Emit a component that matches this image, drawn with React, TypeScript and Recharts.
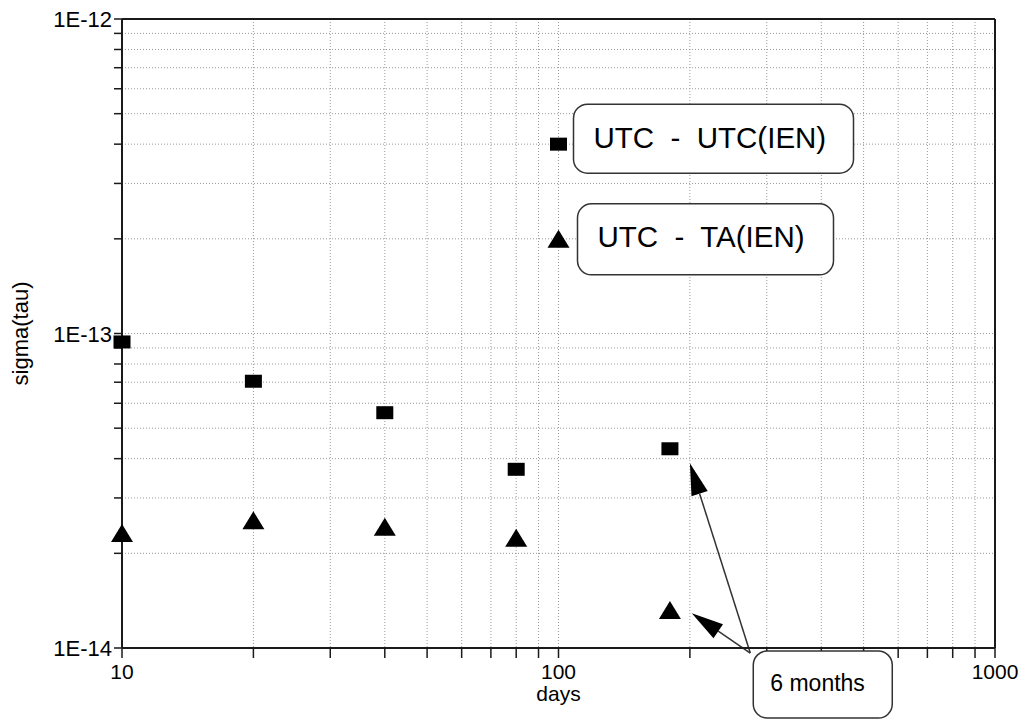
import {
  ScatterChart,
  Scatter,
  XAxis,
  YAxis,
  CartesianGrid,
  ReferenceLine,
  ReferenceDot,
} from "recharts";

const FONT = '"Liberation Sans", Arial, Helvetica, sans-serif';
const INK = "#1a1a1a";

// averaging time (days) and sigma(tau)
const days = [10, 20, 40, 80, 180];
const utcMinusUtcIen = [9.4e-14, 7.05e-14, 5.6e-14, 3.7e-14, 4.3e-14];
const utcMinusTaIen = [2.32e-14, 2.55e-14, 2.43e-14, 2.24e-14, 1.32e-14];

const xTicks = [
  10, 20, 30, 40, 50, 60, 70, 80, 90, 100, 200, 300, 400, 500, 600, 700, 800,
  900, 1000,
];
const yTicks = [
  1e-14, 2e-14, 3e-14, 4e-14, 5e-14, 6e-14, 7e-14, 8e-14, 9e-14, 1e-13, 2e-13,
  3e-13, 4e-13, 5e-13, 6e-13, 7e-13, 8e-13, 9e-13, 1e-12,
];

// in-plot legend (marker drawn at these data positions)
const legendX = 100;
const legendY = [4e-13, 2e-13];
const legendLabels = ["UTC  -  UTC(IEN)", "UTC  -  TA(IEN)"];

// "6 months" callout
const noteAnchor = { x: 275, y: 0.964e-14 };
const noteTips = [
  { x: 200, y: 3.87e-14 },
  { x: 202, y: 1.29e-14 },
];

const squares = days.map((d, i) => ({ x: d, y: utcMinusUtcIen[i] }));
const triangles = days.map((d, i) => ({ x: d, y: utcMinusTaIen[i] }));

const isDecade = (v: number) => {
  const e = Math.log10(v);
  return Math.abs(e - Math.round(e)) < 1e-6;
};

const Square = ({ cx, cy }: any) => (
  <rect x={cx - 8.5} y={cy - 6.5} width={17} height={13} fill="#000" />
);

const Triangle = ({ cx, cy }: any) => (
  <polygon
    points={`${cx},${cy - 9} ${cx + 11},${cy + 9} ${cx - 11},${cy + 9}`}
    fill="#000"
  />
);

const XTick = ({ x, y, payload }: any) =>
  isDecade(payload.value) ? (
    <text
      x={x}
      y={y + 19}
      textAnchor="middle"
      fontSize={21}
      fontFamily={FONT}
      fill="#000"
    >
      {String(payload.value)}
    </text>
  ) : null;

const YTick = ({ x, y, payload }: any) =>
  isDecade(payload.value) ? (
    <text
      x={x}
      y={y + 8}
      textAnchor="end"
      fontSize={22}
      fontFamily={FONT}
      fill="#000"
    >
      {`1E${Math.round(Math.log10(payload.value))}`}
    </text>
  ) : null;

const LegendTag = ({ cx, cy, idx }: any) => {
  const box =
    idx === 0
      ? { dx: 15, dy: -40, w: 280, h: 69, tx: 35, ty: 4 }
      : { dx: 19, dy: -35, w: 256, h: 71, tx: 39, ty: 8 };
  return (
    <g>
      {idx === 0 ? <Square cx={cx} cy={cy} /> : <Triangle cx={cx} cy={cy} />}
      <rect
        x={cx + box.dx}
        y={cy + box.dy}
        width={box.w}
        height={box.h}
        rx={14}
        fill="#fff"
        stroke="#333"
        strokeWidth={1.5}
      />
      <text
        x={cx + box.tx}
        y={cy + box.ty}
        fontSize={29.5}
        fontFamily={FONT}
        fill="#000"
        style={{ whiteSpace: "pre" }}
      >
        {legendLabels[idx]}
      </text>
    </g>
  );
};

const NoteBox = ({ cx, cy }: any) => (
  <g>
    <rect
      x={cx + 3}
      y={cy - 2}
      width={139}
      height={67}
      rx={14}
      fill="#fff"
      stroke="#333"
      strokeWidth={1.5}
    />
    <text x={cx + 20} y={cy + 38} fontSize={23} fontFamily={FONT} fill="#000">
      6 months
    </text>
  </g>
);

const Arrow = ({ x1, y1, x2, y2 }: any) => {
  const a = Math.atan2(y2 - y1, x2 - x1);
  const len = 32;
  const half = 8.5;
  const bx = x2 - len * Math.cos(a);
  const by = y2 - len * Math.sin(a);
  const nx = -Math.sin(a) * half;
  const ny = Math.cos(a) * half;
  return (
    <g>
      <line x1={x1} y1={y1} x2={bx} y2={by} stroke="#333" strokeWidth={1.5} />
      <polygon
        points={`${x2},${y2} ${bx + nx},${by + ny} ${bx - nx},${by - ny}`}
        fill="#000"
      />
    </g>
  );
};

const YLabel = ({ viewBox }: any) => {
  const cx = 20;
  const cy = viewBox.y + viewBox.height / 2;
  return (
    <text
      x={cx}
      y={cy}
      transform={`rotate(-90 ${cx} ${cy})`}
      textAnchor="middle"
      dominantBaseline="central"
      fontSize={22}
      fontFamily={FONT}
      fill="#000"
    >
      sigma(tau)
    </text>
  );
};

const XLabel = ({ viewBox }: any) => (
  <text
    x={viewBox.x + viewBox.width / 2}
    y={701}
    textAnchor="middle"
    fontSize={21}
    fontFamily={FONT}
    fill="#000"
  >
    days
  </text>
);

export default function App() {
  return (
    <div style={{ position: "absolute", left: 0, top: 0, background: "#fff" }}>
      <ScatterChart
        width={1027}
        height={719}
        margin={{ top: 19, right: 32, left: 0, bottom: 11 }}
      >
        <CartesianGrid stroke="#999" strokeDasharray="1 2" />
        <XAxis
          type="number"
          dataKey="x"
          scale="log"
          domain={[10, 1000]}
          ticks={xTicks}
          interval={0}
          tickSize={10}
          height={60}
          stroke={INK}
          axisLine={{ stroke: INK, strokeWidth: 2 }}
          tickLine={{ stroke: INK, strokeWidth: 1.5 }}
          tick={<XTick />}
          label={<XLabel />}
        />
        <YAxis
          type="number"
          dataKey="y"
          scale="log"
          domain={[1e-14, 1e-12]}
          ticks={yTicks}
          interval={0}
          tickSize={8}
          width={122}
          stroke={INK}
          axisLine={{ stroke: INK, strokeWidth: 2 }}
          tickLine={{ stroke: INK, strokeWidth: 1.5 }}
          tick={<YTick />}
          label={<YLabel />}
        />
        <ReferenceLine y={1e-12} stroke={INK} strokeWidth={2} />
        <ReferenceLine x={1000} stroke={INK} strokeWidth={2} />
        <Scatter
          name="UTC - UTC(IEN)"
          data={squares}
          shape={<Square />}
          isAnimationActive={false}
        />
        <Scatter
          name="UTC - TA(IEN)"
          data={triangles}
          shape={<Triangle />}
          isAnimationActive={false}
        />
        {legendY.map((y, i) => (
          <ReferenceDot
            key={i}
            x={legendX}
            y={y}
            ifOverflow="visible"
            shape={(p: any) => <LegendTag {...p} idx={i} />}
          />
        ))}
        {noteTips.map((t, i) => (
          <ReferenceLine
            key={i}
            segment={[
              { x: noteAnchor.x, y: noteAnchor.y },
              { x: t.x, y: t.y },
            ]}
            ifOverflow="visible"
            shape={(p: any) => <Arrow {...p} />}
          />
        ))}
        <ReferenceDot
          x={noteAnchor.x}
          y={noteAnchor.y}
          ifOverflow="visible"
          shape={(p: any) => <NoteBox {...p} />}
        />
      </ScatterChart>
    </div>
  );
}
